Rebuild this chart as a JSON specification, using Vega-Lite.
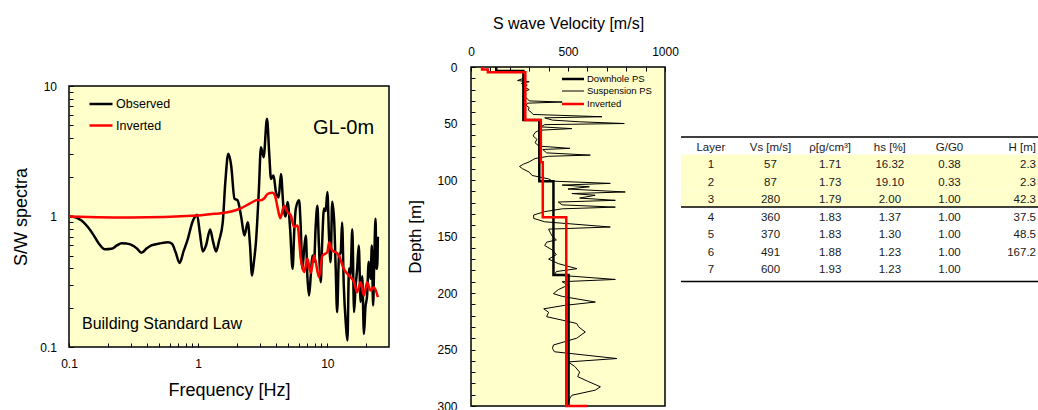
{
 "$schema": "https://vega.github.io/schema/vega-lite/v6.json",
 "background": "#ffffff",
 "padding": {"left": 12, "top": 14, "right": 0, "bottom": 0},
 "config": {
  "font": "Liberation Sans",
  "view": {"stroke": null},
  "axis": {"grid": false, "domain": false, "labelColor": "#000000", "titleColor": "#000000", "titleFontWeight": "normal", "tickColor": "#000000", "tickWidth": 1, "labelFlush": false, "labelOverlap": false, "labelFont": "Liberation Sans", "titleFont": "Liberation Sans"},
  "legend": {"labelFont": "Liberation Sans", "labelColor": "#000000"},
  "text": {"font": "Liberation Sans"}
 },
 "spacing": 16,
 "resolve": {"scale": {"color": "independent", "strokeWidth": "independent"}, "legend": {"color": "independent", "strokeWidth": "independent"}},
 "hconcat": [
  {
   "bounds": "flush",
   "spacing": 0,
   "resolve": {"scale": {"color": "independent"}, "legend": {"color": "independent"}},
   "vconcat": [
    {"width": 320, "height": 19, "data": {"values": []}, "mark": "point", "encoding": {}},
    {
     "width": 320,
     "height": 261,
     "view": {"fill": "#FFFFCC", "stroke": "#000000", "strokeWidth": 1.5},
     "data": {"values": [
      {"s1":"Observed","f":0.1,"a":1.0},{"s1":"Observed","f":0.112,"a":0.985},{"s1":"Observed","f":0.125,"a":0.93},{"s1":"Observed","f":0.14,"a":0.83},{"s1":"Observed","f":0.155,"a":0.72},{"s1":"Observed","f":0.17,"a":0.62},{"s1":"Observed","f":0.19,"a":0.56},{"s1":"Observed","f":0.213,"a":0.565},{"s1":"Observed","f":0.235,"a":0.6},{"s1":"Observed","f":0.255,"a":0.625},{"s1":"Observed","f":0.28,"a":0.62},{"s1":"Observed","f":0.304,"a":0.607},{"s1":"Observed","f":0.335,"a":0.57},{"s1":"Observed","f":0.363,"a":0.527},{"s1":"Observed","f":0.4,"a":0.57},{"s1":"Observed","f":0.434,"a":0.6},{"s1":"Observed","f":0.5,"a":0.62},{"s1":"Observed","f":0.584,"a":0.636},{"s1":"Observed","f":0.627,"a":0.618},{"s1":"Observed","f":0.67,"a":0.53},{"s1":"Observed","f":0.718,"a":0.44},{"s1":"Observed","f":0.77,"a":0.54},{"s1":"Observed","f":0.832,"a":0.675},{"s1":"Observed","f":0.9,"a":0.9},{"s1":"Observed","f":0.94,"a":0.99},{"s1":"Observed","f":0.98,"a":1.03},{"s1":"Observed","f":1.03,"a":0.75},{"s1":"Observed","f":1.086,"a":0.54},{"s1":"Observed","f":1.15,"a":0.6},{"s1":"Observed","f":1.238,"a":0.795},{"s1":"Observed","f":1.3,"a":0.65},{"s1":"Observed","f":1.377,"a":0.54},{"s1":"Observed","f":1.45,"a":0.65},{"s1":"Observed","f":1.55,"a":0.905},{"s1":"Observed","f":1.62,"a":1.8},{"s1":"Observed","f":1.71,"a":3.02},{"s1":"Observed","f":1.8,"a":2.46},{"s1":"Observed","f":1.91,"a":1.37},{"s1":"Observed","f":2.02,"a":1.33},{"s1":"Observed","f":2.15,"a":1.0},{"s1":"Observed","f":2.28,"a":0.715},{"s1":"Observed","f":2.42,"a":0.905},{"s1":"Observed","f":2.52,"a":0.6},{"s1":"Observed","f":2.61,"a":0.353},{"s1":"Observed","f":2.7,"a":0.45},{"s1":"Observed","f":2.8,"a":0.636},{"s1":"Observed","f":2.95,"a":1.6},{"s1":"Observed","f":3.06,"a":3.4},{"s1":"Observed","f":3.21,"a":2.85},{"s1":"Observed","f":3.41,"a":5.6},{"s1":"Observed","f":3.55,"a":3.0},{"s1":"Observed","f":3.66,"a":1.94},{"s1":"Observed","f":3.83,"a":2.06},{"s1":"Observed","f":4.0,"a":1.54},{"s1":"Observed","f":4.2,"a":1.4},{"s1":"Observed","f":4.37,"a":2.12},{"s1":"Observed","f":4.58,"a":1.15},{"s1":"Observed","f":4.75,"a":1.0},{"s1":"Observed","f":4.92,"a":1.29},{"s1":"Observed","f":5.15,"a":0.8},{"s1":"Observed","f":5.38,"a":0.397},{"s1":"Observed","f":5.55,"a":0.8},{"s1":"Observed","f":5.7,"a":1.15},{"s1":"Observed","f":6.04,"a":1.33},{"s1":"Observed","f":6.2,"a":0.9},{"s1":"Observed","f":6.41,"a":0.397},{"s1":"Observed","f":6.6,"a":0.55},{"s1":"Observed","f":6.81,"a":0.715},{"s1":"Observed","f":7.0,"a":0.35},{"s1":"Observed","f":7.22,"a":0.248},{"s1":"Observed","f":7.45,"a":0.36},{"s1":"Observed","f":7.66,"a":0.503},{"s1":"Observed","f":7.9,"a":0.45},{"s1":"Observed","f":8.1,"a":0.8},{"s1":"Observed","f":8.37,"a":1.21},{"s1":"Observed","f":8.6,"a":0.6},{"s1":"Observed","f":8.89,"a":0.314},{"s1":"Observed","f":9.1,"a":0.6},{"s1":"Observed","f":9.42,"a":1.15},{"s1":"Observed","f":9.7,"a":1.1},{"s1":"Observed","f":10.0,"a":1.54},{"s1":"Observed","f":10.3,"a":0.7},{"s1":"Observed","f":10.6,"a":0.447},{"s1":"Observed","f":10.9,"a":1.3},{"s1":"Observed","f":11.3,"a":0.905},{"s1":"Observed","f":11.6,"a":0.4},{"s1":"Observed","f":11.9,"a":0.185},{"s1":"Observed","f":12.3,"a":0.5},{"s1":"Observed","f":12.7,"a":0.533},{"s1":"Observed","f":13.0,"a":0.9},{"s1":"Observed","f":13.4,"a":0.296},{"s1":"Observed","f":13.9,"a":0.15},{"s1":"Observed","f":14.3,"a":0.112},{"s1":"Observed","f":14.7,"a":0.4},{"s1":"Observed","f":15.1,"a":0.353},{"s1":"Observed","f":15.6,"a":0.8},{"s1":"Observed","f":16.1,"a":0.185},{"s1":"Observed","f":16.5,"a":0.28},{"s1":"Observed","f":17.0,"a":0.397},{"s1":"Observed","f":17.5,"a":0.6},{"s1":"Observed","f":18.1,"a":0.221},{"s1":"Observed","f":18.6,"a":0.35},{"s1":"Observed","f":19.2,"a":0.126},{"s1":"Observed","f":19.7,"a":0.2},{"s1":"Observed","f":20.3,"a":0.248},{"s1":"Observed","f":20.9,"a":0.45},{"s1":"Observed","f":21.6,"a":0.333},{"s1":"Observed","f":22.1,"a":0.6},{"s1":"Observed","f":22.6,"a":0.208},{"s1":"Observed","f":23.1,"a":0.5},{"s1":"Observed","f":23.6,"a":0.96},{"s1":"Observed","f":24.0,"a":0.4},{"s1":"Observed","f":24.3,"a":0.397},{"s1":"Observed","f":24.6,"a":0.7},
      {"s1":"Inverted","f":0.1,"a":1.0},{"s1":"Inverted","f":0.304,"a":0.982},{"s1":"Inverted","f":0.99,"a":1.018},{"s1":"Inverted","f":1.34,"a":1.048},{"s1":"Inverted","f":1.8,"a":1.092},{"s1":"Inverted","f":2.15,"a":1.16},{"s1":"Inverted","f":2.56,"a":1.27},{"s1":"Inverted","f":2.88,"a":1.34},{"s1":"Inverted","f":3.06,"a":1.33},{"s1":"Inverted","f":3.25,"a":1.38},{"s1":"Inverted","f":3.45,"a":1.49},{"s1":"Inverted","f":3.77,"a":1.52},{"s1":"Inverted","f":3.93,"a":1.45},{"s1":"Inverted","f":4.11,"a":1.18},{"s1":"Inverted","f":4.32,"a":0.97},{"s1":"Inverted","f":4.63,"a":1.21},{"s1":"Inverted","f":4.92,"a":1.08},{"s1":"Inverted","f":5.21,"a":1.02},{"s1":"Inverted","f":5.53,"a":0.83},{"s1":"Inverted","f":5.87,"a":0.853},{"s1":"Inverted","f":6.23,"a":0.474},{"s1":"Inverted","f":6.61,"a":0.375},{"s1":"Inverted","f":7.01,"a":0.474},{"s1":"Inverted","f":7.44,"a":0.37},{"s1":"Inverted","f":7.89,"a":0.5},{"s1":"Inverted","f":8.63,"a":0.343},{"s1":"Inverted","f":9.15,"a":0.5},{"s1":"Inverted","f":10.0,"a":0.533},{"s1":"Inverted","f":10.3,"a":0.636},{"s1":"Inverted","f":10.9,"a":0.549},{"s1":"Inverted","f":11.6,"a":0.533},{"s1":"Inverted","f":12.3,"a":0.5},{"s1":"Inverted","f":13.4,"a":0.397},{"s1":"Inverted","f":14.7,"a":0.353},{"s1":"Inverted","f":16.1,"a":0.314},{"s1":"Inverted","f":17.0,"a":0.263},{"s1":"Inverted","f":18.1,"a":0.314},{"s1":"Inverted","f":19.2,"a":0.248},{"s1":"Inverted","f":20.3,"a":0.314},{"s1":"Inverted","f":21.6,"a":0.271},{"s1":"Inverted","f":22.9,"a":0.287},{"s1":"Inverted","f":24.6,"a":0.241}
     ]},
     "encoding": {
      "x": {"field": "f", "type": "quantitative", "scale": {"type": "log", "domain": [0.1, 30]},
            "axis": {"values": [0.1,0.2,0.3,0.4,0.5,0.6,0.7,0.8,0.9,1,2,3,4,5,6,7,8,9,10,20], "labelExpr": "datum.value == 0.1 ? '0.1' : datum.value == 1 ? '1' : datum.value == 10 ? '10' : ''", "tickSize": -4, "labelPadding": 15, "labelFontSize": 12, "title": "Frequency [Hz]", "titleFontSize": 18, "titlePadding": 12}},
      "y": {"field": "a", "type": "quantitative", "scale": {"type": "log", "domain": [0.1, 10]},
            "axis": {"values": [0.1,0.2,0.3,0.4,0.5,0.6,0.7,0.8,0.9,1,2,3,4,5,6,7,8,9,10], "labelExpr": "datum.value == 0.1 ? '0.1' : datum.value == 1 ? '1' : datum.value == 10 ? '10' : ''", "tickSize": -4, "labelPadding": 16.5, "labelFontSize": 12, "title": "S/W spectra", "titleFontSize": 18, "titlePadding": 9}}
     },
     "layer": [
      {"transform": [{"filter": "datum.s1 == 'Observed'"}],
       "mark": {"type": "line", "strokeWidth": 2.5, "interpolate": "monotone"},
       "encoding": {"color": {"field": "s1", "type": "nominal", "scale": {"domain": ["Observed", "Inverted"], "range": ["#000000", "#FF0000"]},
         "legend": {"title": null, "orient": "none", "legendX": 19, "legendY": 5, "padding": 0, "symbolType": "stroke", "symbolSize": 529, "symbolStrokeWidth": 2.5, "labelFontSize": 12.5, "labelOffset": 2, "rowPadding": 1.5}}}},
      {"transform": [{"filter": "datum.s1 == 'Inverted'"}],
       "mark": {"type": "line", "strokeWidth": 2.5, "interpolate": "monotone"},
       "encoding": {"color": {"field": "s1", "type": "nominal"}}},
      {"data": {"values": [{"t": "GL-0m", "f": 23, "a": 4.3}]},
       "mark": {"type": "text", "align": "right", "baseline": "alphabetic", "fontSize": 20, "color": "#000000"},
       "encoding": {"text": {"field": "t"}}},
      {"data": {"values": [{"t": "Building Standard Law", "f": 0.126, "a": 0.138}]},
       "mark": {"type": "text", "align": "left", "baseline": "alphabetic", "fontSize": 16, "color": "#000000"},
       "encoding": {"text": {"field": "t"}}}
     ]
    }
   ]
  },
  {
   "spacing": 0,
   "resolve": {"scale": {"color": "independent", "strokeWidth": "independent"}, "legend": {"color": "independent", "strokeWidth": "independent"}},
   "hconcat": [
    {
     "width": 194,
     "height": 339,
     "view": {"fill": "#FFFFCC", "stroke": "#000000", "strokeWidth": 1.5},
     "data": {"values": [
      {"s2":"Downhole PS","i":0,"v":130,"d":0},{"s2":"Downhole PS","i":1,"v":130,"d":3.5},{"s2":"Downhole PS","i":2,"v":270,"d":3.5},{"s2":"Downhole PS","i":3,"v":270,"d":47},{"s2":"Downhole PS","i":4,"v":352,"d":47},{"s2":"Downhole PS","i":5,"v":352,"d":101},{"s2":"Downhole PS","i":6,"v":425,"d":101},{"s2":"Downhole PS","i":7,"v":425,"d":184},{"s2":"Downhole PS","i":8,"v":503,"d":184},{"s2":"Downhole PS","i":9,"v":503,"d":300},
      {"s2":"Inverted","i":0,"v":57,"d":0},{"s2":"Inverted","i":1,"v":57,"d":2.3},{"s2":"Inverted","i":2,"v":87,"d":2.3},{"s2":"Inverted","i":3,"v":87,"d":4.6},{"s2":"Inverted","i":4,"v":280,"d":4.6},{"s2":"Inverted","i":5,"v":280,"d":46.9},{"s2":"Inverted","i":6,"v":360,"d":46.9},{"s2":"Inverted","i":7,"v":360,"d":84.4},{"s2":"Inverted","i":8,"v":370,"d":84.4},{"s2":"Inverted","i":9,"v":370,"d":132.9},{"s2":"Inverted","i":10,"v":491,"d":132.9},{"s2":"Inverted","i":11,"v":491,"d":300.1},{"s2":"Inverted","i":12,"v":600,"d":300.1},
      {"s2":"Suspension PS","i":0,"v":270,"d":10},{"s2":"Suspension PS","i":1,"v":240,"d":12},{"s2":"Suspension PS","i":2,"v":300,"d":13},{"s2":"Suspension PS","i":3,"v":260,"d":14.5},{"s2":"Suspension PS","i":4,"v":290,"d":16},{"s2":"Suspension PS","i":5,"v":275,"d":18},{"s2":"Suspension PS","i":6,"v":300,"d":20},{"s2":"Suspension PS","i":7,"v":270,"d":22},{"s2":"Suspension PS","i":8,"v":285,"d":24},{"s2":"Suspension PS","i":9,"v":265,"d":26},{"s2":"Suspension PS","i":10,"v":290,"d":28},{"s2":"Suspension PS","i":11,"v":300,"d":30},{"s2":"Suspension PS","i":12,"v":470,"d":31},{"s2":"Suspension PS","i":13,"v":290,"d":32},{"s2":"Suspension PS","i":14,"v":285,"d":34},{"s2":"Suspension PS","i":15,"v":300,"d":36},{"s2":"Suspension PS","i":16,"v":295,"d":38},{"s2":"Suspension PS","i":17,"v":310,"d":40},{"s2":"Suspension PS","i":18,"v":320,"d":42},{"s2":"Suspension PS","i":19,"v":675,"d":44},{"s2":"Suspension PS","i":20,"v":380,"d":45},{"s2":"Suspension PS","i":21,"v":420,"d":47},{"s2":"Suspension PS","i":22,"v":560,"d":48.5},{"s2":"Suspension PS","i":23,"v":790,"d":50},{"s2":"Suspension PS","i":24,"v":380,"d":51},{"s2":"Suspension PS","i":25,"v":360,"d":53},{"s2":"Suspension PS","i":26,"v":520,"d":54.5},{"s2":"Suspension PS","i":27,"v":350,"d":56},{"s2":"Suspension PS","i":28,"v":330,"d":58},{"s2":"Suspension PS","i":29,"v":320,"d":61},{"s2":"Suspension PS","i":30,"v":340,"d":64},{"s2":"Suspension PS","i":31,"v":330,"d":67},{"s2":"Suspension PS","i":32,"v":350,"d":70},{"s2":"Suspension PS","i":33,"v":510,"d":72},{"s2":"Suspension PS","i":34,"v":370,"d":73},{"s2":"Suspension PS","i":35,"v":390,"d":76},{"s2":"Suspension PS","i":36,"v":615,"d":78},{"s2":"Suspension PS","i":37,"v":400,"d":79},{"s2":"Suspension PS","i":38,"v":330,"d":81},{"s2":"Suspension PS","i":39,"v":300,"d":84},{"s2":"Suspension PS","i":40,"v":270,"d":86},{"s2":"Suspension PS","i":41,"v":250,"d":88},{"s2":"Suspension PS","i":42,"v":265,"d":90},{"s2":"Suspension PS","i":43,"v":300,"d":93},{"s2":"Suspension PS","i":44,"v":315,"d":96},{"s2":"Suspension PS","i":45,"v":400,"d":99},{"s2":"Suspension PS","i":46,"v":420,"d":101},{"s2":"Suspension PS","i":47,"v":718,"d":103},{"s2":"Suspension PS","i":48,"v":470,"d":104.5},{"s2":"Suspension PS","i":49,"v":610,"d":106},{"s2":"Suspension PS","i":50,"v":500,"d":108},{"s2":"Suspension PS","i":51,"v":795,"d":110.6},{"s2":"Suspension PS","i":52,"v":520,"d":112},{"s2":"Suspension PS","i":53,"v":640,"d":113.5},{"s2":"Suspension PS","i":54,"v":560,"d":116},{"s2":"Suspension PS","i":55,"v":744,"d":118},{"s2":"Suspension PS","i":56,"v":450,"d":119.5},{"s2":"Suspension PS","i":57,"v":470,"d":122},{"s2":"Suspension PS","i":58,"v":744,"d":124},{"s2":"Suspension PS","i":59,"v":470,"d":125.5},{"s2":"Suspension PS","i":60,"v":380,"d":128},{"s2":"Suspension PS","i":61,"v":323,"d":131},{"s2":"Suspension PS","i":62,"v":323,"d":134},{"s2":"Suspension PS","i":63,"v":380,"d":137},{"s2":"Suspension PS","i":64,"v":718,"d":141.6},{"s2":"Suspension PS","i":65,"v":400,"d":143.5},{"s2":"Suspension PS","i":66,"v":410,"d":147},{"s2":"Suspension PS","i":67,"v":420,"d":150},{"s2":"Suspension PS","i":68,"v":440,"d":153},{"s2":"Suspension PS","i":69,"v":390,"d":155},{"s2":"Suspension PS","i":70,"v":380,"d":158},{"s2":"Suspension PS","i":71,"v":420,"d":162},{"s2":"Suspension PS","i":72,"v":440,"d":166},{"s2":"Suspension PS","i":73,"v":400,"d":170},{"s2":"Suspension PS","i":74,"v":450,"d":174},{"s2":"Suspension PS","i":75,"v":546,"d":178.5},{"s2":"Suspension PS","i":76,"v":440,"d":181},{"s2":"Suspension PS","i":77,"v":430,"d":184},{"s2":"Suspension PS","i":78,"v":744,"d":188},{"s2":"Suspension PS","i":79,"v":470,"d":190},{"s2":"Suspension PS","i":80,"v":500,"d":193},{"s2":"Suspension PS","i":81,"v":450,"d":197},{"s2":"Suspension PS","i":82,"v":425,"d":200.6},{"s2":"Suspension PS","i":83,"v":470,"d":203},{"s2":"Suspension PS","i":84,"v":641,"d":208},{"s2":"Suspension PS","i":85,"v":480,"d":211},{"s2":"Suspension PS","i":86,"v":375,"d":214},{"s2":"Suspension PS","i":87,"v":400,"d":217},{"s2":"Suspension PS","i":88,"v":390,"d":221},{"s2":"Suspension PS","i":89,"v":470,"d":224},{"s2":"Suspension PS","i":90,"v":545,"d":227},{"s2":"Suspension PS","i":91,"v":555,"d":230},{"s2":"Suspension PS","i":92,"v":589,"d":234.5},{"s2":"Suspension PS","i":93,"v":545,"d":240},{"s2":"Suspension PS","i":94,"v":425,"d":246},{"s2":"Suspension PS","i":95,"v":420,"d":249},{"s2":"Suspension PS","i":96,"v":430,"d":252},{"s2":"Suspension PS","i":97,"v":752,"d":258},{"s2":"Suspension PS","i":98,"v":500,"d":261},{"s2":"Suspension PS","i":99,"v":535,"d":265},{"s2":"Suspension PS","i":100,"v":560,"d":270},{"s2":"Suspension PS","i":101,"v":550,"d":274},{"s2":"Suspension PS","i":102,"v":600,"d":278},{"s2":"Suspension PS","i":103,"v":667,"d":283},{"s2":"Suspension PS","i":104,"v":640,"d":286},{"s2":"Suspension PS","i":105,"v":520,"d":290.5},{"s2":"Suspension PS","i":106,"v":510,"d":293},{"s2":"Suspension PS","i":107,"v":505,"d":296}
     ]},
     "encoding": {
      "x": {"field": "v", "type": "quantitative", "scale": {"domain": [0, 1000]},
            "axis": {"orient": "top", "values": [0,100,200,300,400,500,600,700,800,900,1000], "format": "d", "labelExpr": "datum.value % 500 == 0 ? datum.label : ''", "tickSize": -4, "labelPadding": 13, "labelFontSize": 12, "title": "S wave Velocity [m/s]", "titleFontSize": 16, "titlePadding": 14}},
      "y": {"field": "d", "type": "quantitative", "scale": {"domain": [0, 300], "reverse": true},
            "axis": {"values": [0,10,20,30,40,50,60,70,80,90,100,110,120,130,140,150,160,170,180,190,200,210,220,230,240,250,260,270,280,290,300], "format": "d", "labelExpr": "datum.value % 50 == 0 ? datum.label : ''", "tickSize": -4, "labelPadding": 18, "labelFontSize": 12, "title": "Depth [m]", "titleFontSize": 17, "titlePadding": 12}},
      "order": {"field": "i", "type": "quantitative"},
      "color": {"field": "s2", "type": "nominal", "scale": {"domain": ["Downhole PS", "Suspension PS", "Inverted"], "range": ["#000000", "#000000", "#FF0000"]},
        "legend": {"title": null, "orient": "none", "legendX": 95, "legendY": 5, "padding": 0, "symbolType": "M-2,0L2,0", "symbolSize": 121, "labelFontSize": 9.5, "labelOffset": 7, "rowPadding": 1}},
      "strokeWidth": {"field": "s2", "type": "nominal", "scale": {"type": "ordinal", "domain": ["Downhole PS", "Suspension PS", "Inverted"], "range": [2.5, 1, 2.5]},
        "legend": {"title": null, "orient": "none", "legendX": 95, "legendY": 5, "padding": 0, "symbolType": "M-2,0L2,0", "symbolSize": 121, "labelFontSize": 9.5, "labelOffset": 7, "rowPadding": 1}}
     },
     "layer": [
      {"transform": [{"filter": "datum.s2 == 'Suspension PS'"}], "mark": {"type": "line"}},
      {"transform": [{"filter": "datum.s2 == 'Downhole PS'"}], "mark": {"type": "line"}},
      {"transform": [{"filter": "datum.s2 == 'Inverted'"}], "mark": {"type": "line"}}
     ]
    },
    {
     "width": 358,
     "height": 210,
     "data": {"values": [
      {"r": 0, "Layer": "Layer", "Vs": "Vs [m/s]", "rho": "ρ[g/cm³]", "hs": "hs [%]", "gg0": "G/G0", "H": "H [m]"},
      {"r": 1, "Layer": "1", "Vs": "57", "rho": "1.71", "hs": "16.32", "gg0": "0.38", "H": "2.3"},
      {"r": 2, "Layer": "2", "Vs": "87", "rho": "1.73", "hs": "19.10", "gg0": "0.33", "H": "2.3"},
      {"r": 3, "Layer": "3", "Vs": "280", "rho": "1.79", "hs": "2.00", "gg0": "1.00", "H": "42.3"},
      {"r": 4, "Layer": "4", "Vs": "360", "rho": "1.83", "hs": "1.37", "gg0": "1.00", "H": "37.5"},
      {"r": 5, "Layer": "5", "Vs": "370", "rho": "1.83", "hs": "1.30", "gg0": "1.00", "H": "48.5"},
      {"r": 6, "Layer": "6", "Vs": "491", "rho": "1.88", "hs": "1.23", "gg0": "1.00", "H": "167.2"},
      {"r": 7, "Layer": "7", "Vs": "600", "rho": "1.93", "hs": "1.23", "gg0": "1.00", "H": ""}
     ]},
     "encoding": {
      "y": {"field": "r", "type": "ordinal", "scale": {"type": "band", "domain": [-4, -3, -2, -1, 0, 1, 2, 3, 4, 5, 6, 7], "paddingInner": 0, "paddingOuter": 0}, "axis": null}
     },
     "layer": [
      {"transform": [{"filter": "datum.r >= 1 && datum.r <= 3"}],
       "mark": {"type": "rect", "fill": "#FFFFCC"}},
      {"transform": [{"filter": "datum.r == 0 || datum.r == 4"}],
       "mark": {"type": "rule", "color": "#000000", "strokeWidth": 1.5},
       "encoding": {"y": {"field": "r", "type": "ordinal", "bandPosition": 0}}},
      {"transform": [{"filter": "datum.r == 7"}],
       "mark": {"type": "rule", "color": "#000000", "strokeWidth": 1.5, "yOffset": 4.5},
       "encoding": {"y": {"field": "r", "type": "ordinal", "bandPosition": 1}}},
      {"transform": [{"fold": ["Layer", "Vs", "rho", "hs", "gg0", "H"], "as": ["col", "txt"]}, {"filter": "datum.col != 'H'"}],
       "mark": {"type": "text", "align": "center", "baseline": "middle", "fontSize": 11.5, "color": "#1a1a1a", "dy": 2},
       "encoding": {
        "x": {"field": "col", "type": "nominal", "scale": {"type": "band", "domain": ["Layer", "Vs", "rho", "hs", "gg0", "H"], "paddingInner": 0, "paddingOuter": 0}, "axis": null},
        "text": {"field": "txt", "type": "nominal"}}},
      {"transform": [{"fold": ["Layer", "Vs", "rho", "hs", "gg0", "H"], "as": ["col", "txt"]}, {"filter": "datum.col == 'H'"}],
       "mark": {"type": "text", "align": "right", "baseline": "middle", "fontSize": 11.5, "color": "#1a1a1a", "dx": -3, "dy": 2},
       "encoding": {
        "x": {"field": "col", "type": "nominal", "bandPosition": 1},
        "text": {"field": "txt", "type": "nominal"}}}
     ]
    }
   ]
  }
 ]
}
